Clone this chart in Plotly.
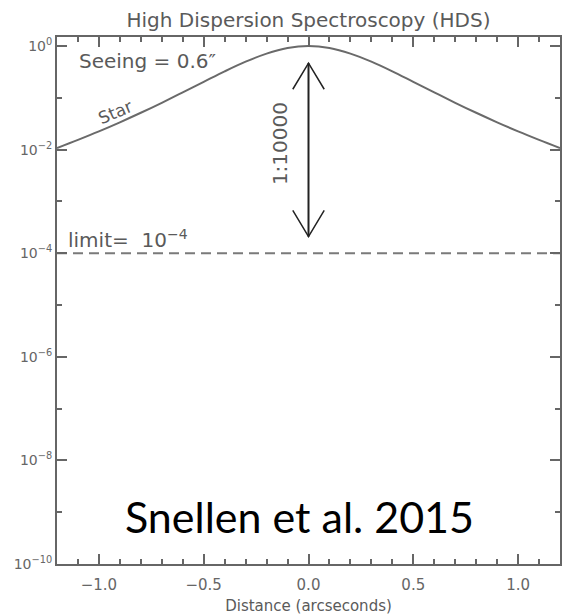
import plotly.graph_objects as go

# ---- data ----
star_x = [-1.2, -1.1, -1.0, -0.9, -0.8, -0.7, -0.6, -0.5, -0.4, -0.3, -0.2, -0.1, 0.0,
          0.1, 0.2, 0.3, 0.4, 0.5, 0.6, 0.7, 0.8, 0.9, 1.0, 1.1, 1.2]
star_y = [0.0108, 0.0155, 0.0226, 0.0338, 0.0516, 0.0805, 0.128, 0.204, 0.325, 0.500, 0.717, 0.917, 1.0,
          0.917, 0.717, 0.500, 0.325, 0.204, 0.128, 0.0805, 0.0516, 0.0338, 0.0226, 0.0155, 0.0108]

limit_value = 1e-4
x_range = [-1.2, 1.2]
arrow_x = 0.0
arrow_top = 0.47
arrow_bottom = 2.1e-4

y_tick_vals = [1e-10, 1e-8, 1e-6, 1e-4, 1e-2, 1e0]
y_tick_text = ["10<sup>\u221210</sup>", "10<sup>\u22128</sup>", "10<sup>\u22126</sup>",
               "10<sup>\u22124</sup>", "10<sup>\u22122</sup>", "10<sup>0</sup>"]
y_minor_vals = [1e-9, 1e-7, 1e-5, 1e-3, 1e-1]

GRAY = "#666666"
FONT = "DejaVu Sans"

fig = go.Figure()

# star profile
fig.add_trace(go.Scatter(x=star_x, y=star_y, mode="lines", line=dict(color="#6a6a6a", width=2, shape="spline"),
                         hoverinfo="skip", showlegend=False))

# limit line
fig.add_trace(go.Scatter(x=x_range, y=[limit_value, limit_value], mode="lines",
                         line=dict(color="#7a7a7a", width=2, dash="10px,6px"),
                         hoverinfo="skip", showlegend=False))

# double arrow
head_dx = 0.075
head_f = 3.2
fig.add_trace(go.Scatter(x=[arrow_x, arrow_x], y=[arrow_top, arrow_bottom], mode="lines",
                         line=dict(color="#222222", width=2), hoverinfo="skip", showlegend=False))
fig.add_trace(go.Scatter(x=[arrow_x - head_dx, arrow_x, arrow_x + head_dx],
                         y=[arrow_top / head_f, arrow_top, arrow_top / head_f], mode="lines",
                         line=dict(color="#222222", width=1.5), hoverinfo="skip", showlegend=False))
fig.add_trace(go.Scatter(x=[arrow_x - head_dx, arrow_x, arrow_x + head_dx],
                         y=[arrow_bottom * head_f, arrow_bottom, arrow_bottom * head_f], mode="lines",
                         line=dict(color="#222222", width=1.5), hoverinfo="skip", showlegend=False))

annos = [
    dict(text="Seeing = 0.6\u2033", x=-1.105, y=-0.29, xanchor="left", yanchor="middle",
         font=dict(family=FONT, size=20, color="#5a5a5a")),
    dict(text="Star", x=-0.92, y=-1.28, xanchor="center", yanchor="middle", textangle=-23,
         font=dict(family=FONT, size=17, color="#5a5a5a")),
    dict(text="1:10000", x=-0.133, y=-1.88, xanchor="center", yanchor="middle", textangle=-90,
         font=dict(family=FONT, size=20, color="#5a5a5a")),
    dict(text="limit=\u00a0\u00a010<sup>\u22124</sup>", x=-1.155, y=-3.72, xanchor="left", yanchor="middle",
         font=dict(family=FONT, size=20, color="#5a5a5a")),
    dict(text="Snellen et al. 2015", xref="paper", yref="paper", x=0.483, y=0.09,
         xanchor="center", yanchor="middle", font=dict(family="Lato", size=43, color="#000000")),
]
for a in annos:
    a.setdefault("xref", "x")
    a.setdefault("yref", "y")
    a["showarrow"] = False
    fig.add_annotation(**a)

fig.update_layout(
    width=562, height=615,
    margin=dict(l=57, r=2, t=37, b=51, autoexpand=False),
    paper_bgcolor="white", plot_bgcolor="white",
    title=dict(text="High Dispersion Spectroscopy (HDS)", x=0.5, xref="paper", xanchor="center",
               y=1 - 20 / 615, yref="container", yanchor="middle",
               font=dict(family=FONT, size=20, color="#5a5a5a")),
    xaxis=dict(range=x_range, tickvals=[-1.0, -0.5, 0.0, 0.5, 1.0], tickformat=".1f", automargin=False,
               ticks="inside", ticklen=10, tickwidth=1.5, tickcolor=GRAY, ticklabelstandoff=6,
               minor=dict(dtick=0.1, tick0=0, ticks="inside", ticklen=5, tickwidth=1.5, tickcolor=GRAY),
               showline=True, linecolor=GRAY, linewidth=2, mirror="ticks", showgrid=False, zeroline=False,
               tickfont=dict(family=FONT, size=15, color="#666666"),
               title=dict(text="Distance (arcseconds)", standoff=8,
                          font=dict(family=FONT, size=15, color="#5a5a5a"))),
    yaxis=dict(type="log", range=[-10, 0.176], tickvals=y_tick_vals, ticktext=y_tick_text, automargin=False,
               ticks="inside", ticklen=10, tickwidth=1.5, tickcolor=GRAY,
               minor=dict(tickvals=y_minor_vals, ticks="inside", ticklen=5, tickwidth=1.5, tickcolor=GRAY),
               showline=True, linecolor=GRAY, linewidth=2, mirror="ticks", showgrid=False, zeroline=False,
               tickfont=dict(family=FONT, size=14, color="#666666")),
)

fig.write_html("out.html", config={"displayModeBar": False},
               post_script="document.body.style.margin='0';document.body.style.overflow='hidden';")
